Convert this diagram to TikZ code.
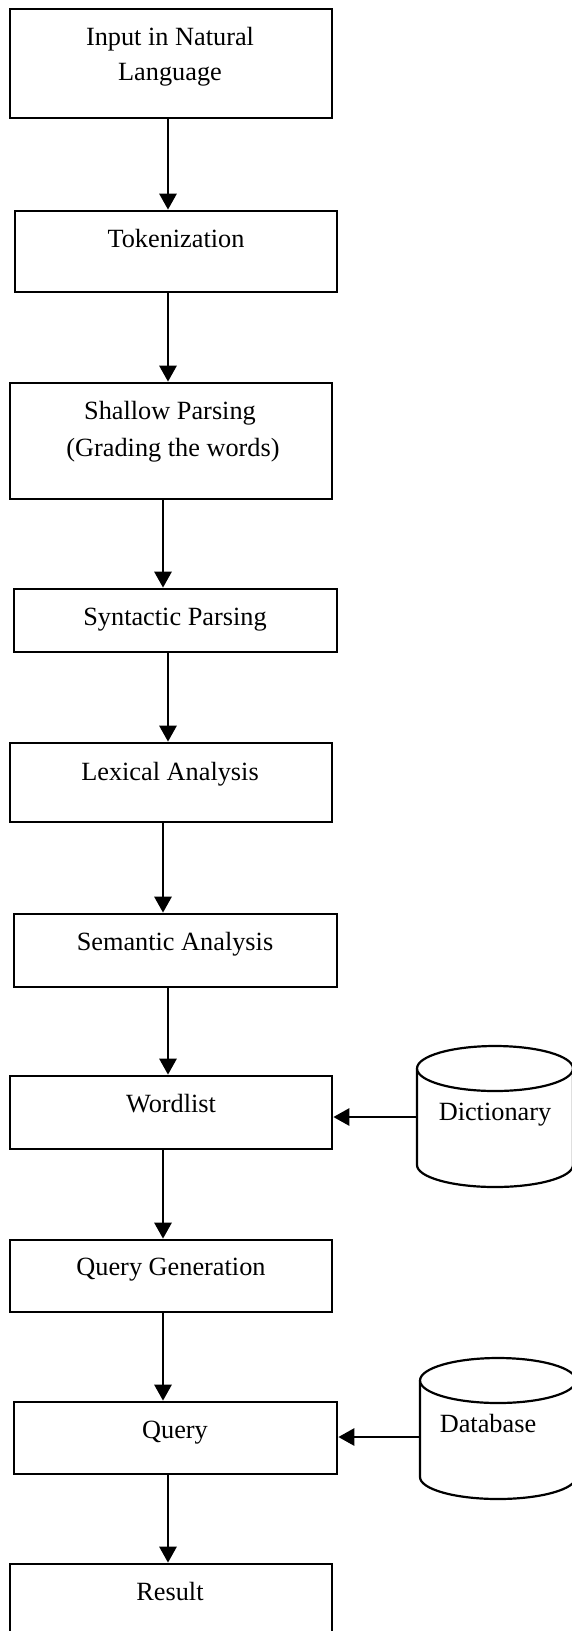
\documentclass[tikz,border=0pt]{standalone}
\usepackage{fontspec}
\setmainfont{Liberation Serif}
\usetikzlibrary{arrows.meta}
\begin{document}
\begin{tikzpicture}[x=1pt,y=-1pt,
  box/.style={draw, line width=2.7pt, rectangle, inner sep=0pt},
  lbl/.style={font=\fontsize{26.3}{36}\selectfont, inner sep=0pt, anchor=base},
  arr/.style={line width=2.9pt, -{Triangle[length=16pt,width=17pt]}},
  cyl/.style={line width=2.2pt}]
\useasboundingbox (0,0) rectangle (572,1631);
% boxes
\node[box, minimum width=322pt, minimum height=109pt] (in1) at (171,63.5) {};
\node[box, minimum width=322pt, minimum height=81pt] (tok) at (176,251.5) {};
\node[box, minimum width=322pt, minimum height=116pt] (sp) at (171,441) {};
\node[box, minimum width=323pt, minimum height=63pt] (syn) at (175.5,620.5) {};
\node[box, minimum width=322pt, minimum height=79pt] (lex) at (171,782.5) {};
\node[box, minimum width=323pt, minimum height=73pt] (sem) at (175.5,950.5) {};
\node[box, minimum width=322pt, minimum height=73pt] (word) at (171,1112.5) {};
\node[box, minimum width=322pt, minimum height=72pt] (qg) at (171,1276) {};
\node[box, minimum width=323pt, minimum height=72pt] (qry) at (175.5,1438) {};
\node[box, minimum width=322pt, minimum height=86pt] (res) at (171,1607) {};
% labels
\node[lbl] (t1a) at (170,45) {Input in Natural};
\node[lbl] (t1b) at (170,80) {Language};
\node[lbl] (t2) at (176,247) {Tokenization};
\node[lbl] (t3a) at (170,419) {Shallow Parsing};
\node[lbl] (t3b) at (173,456) {(Grading the words)};
\node[lbl] (t4) at (175,625) {Syntactic Parsing};
\node[lbl] (t5) at (170,780) {Lexical Analysis};
\node[lbl] (t6) at (175,950) {Semantic Analysis};
\node[lbl] (t7) at (171,1112) {Wordlist};
\node[lbl] (t8) at (171,1275) {Query Generation};
\node[lbl] (t9) at (175,1438) {Query};
\node[lbl] (t10) at (170,1600) {Result};
% cylinders
\draw[cyl] (495,1068.5) ellipse [x radius=78pt, y radius=22.5pt];
\draw[cyl] (417,1068.5) -- (417,1165) arc[start angle=180, end angle=360, x radius=78pt, y radius=22pt] -- (573,1068.5);
\node[lbl] (td) at (495,1120) {Dictionary};
\draw[cyl] (498,1380.5) ellipse [x radius=78pt, y radius=22.5pt];
\draw[cyl] (420,1380.5) -- (420,1477) arc[start angle=180, end angle=360, x radius=78pt, y radius=22pt] -- (576,1380.5);
\node[lbl] (tb) at (488,1432) {Database};
\coordinate (dl) at (417,1117);
\coordinate (bl) at (420,1437);
% arrows
\draw[arr] ([xshift=-3pt]in1.south) -- ([xshift=-3pt]in1.south |- tok.north);
\draw[arr] ([xshift=-8pt]tok.south) -- ([xshift=-8pt]tok.south |- sp.north);
\draw[arr] ([xshift=-8pt]sp.south) -- ([xshift=-8pt]sp.south |- syn.north);
\draw[arr] ([xshift=-7.5pt]syn.south) -- ([xshift=-7.5pt]syn.south |- lex.north);
\draw[arr] ([xshift=-8pt]lex.south) -- ([xshift=-8pt]lex.south |- sem.north);
\draw[arr] ([xshift=-7.5pt]sem.south) -- ([xshift=-7.5pt]sem.south |- word.north);
\draw[arr] ([xshift=-8pt]word.south) -- ([xshift=-8pt]word.south |- qg.north);
\draw[arr] ([xshift=-8pt]qg.south) -- ([xshift=-8pt]qg.south |- qry.north);
\draw[arr] ([xshift=-7.5pt]qry.south) -- ([xshift=-7.5pt]qry.south |- res.north);
\draw[arr] (dl) -- (dl -| word.east);
\draw[arr] (bl) -- (bl -| qry.east);
\end{tikzpicture}
\end{document}
